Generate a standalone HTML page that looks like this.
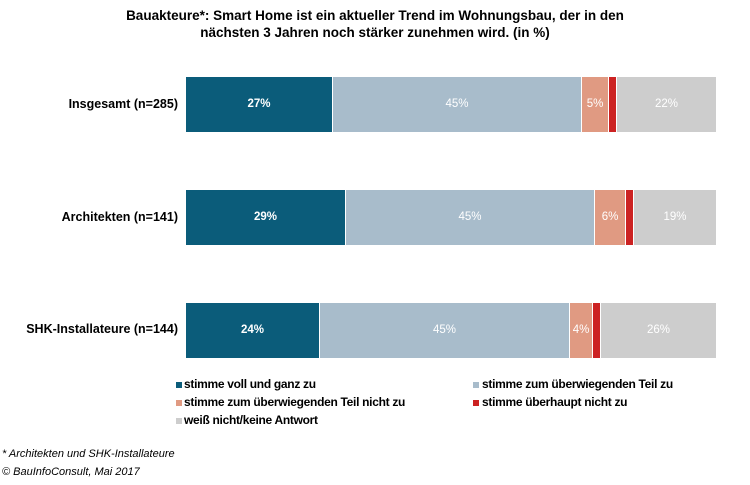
<!DOCTYPE html>
<html><head><meta charset="utf-8"><style>
body{margin:0;width:750px;height:485px;background:#fff;font-family:"Liberation Sans",Arial,sans-serif;position:relative;overflow:hidden}
.t{position:absolute;left:0;width:750px;text-align:center;font-weight:bold;font-size:13.5px;color:#000;line-height:17px}
.b{position:absolute;height:55px}
.v{position:absolute;height:55px;line-height:55px;text-align:center;font-size:11.5px;color:#fff}
.l{position:absolute;right:572px;font-weight:bold;font-size:12.5px;width:200px;text-align:right}
.lg{position:absolute;font-weight:bold;font-size:12px;letter-spacing:-0.3px}
.sq{position:absolute;width:6px;height:6px}
.f{position:absolute;left:2px;font-style:italic;font-size:11px}
</style></head><body>
<div class="t" style="top:7px">Bauakteure*: Smart Home ist ein aktueller Trend im Wohnungsbau, der in den<br>nächsten 3 Jahren noch stärker zunehmen wird. (in %)</div>

<div class="l" style="top:97px">Insgesamt (n=285)</div>
<div class="b" style="top:77px;left:186px;width:146px;background:#0b5c7a"></div>
<div class="b" style="top:77px;left:333px;width:248px;background:#a8bccb"></div>
<div class="b" style="top:77px;left:582px;width:26px;background:#e09a82"></div>
<div class="b" style="top:77px;left:609px;width:7px;background:#cc2222"></div>
<div class="b" style="top:77px;left:617px;width:99px;background:#cdcdcd"></div>
<div class="v" style="top:77px;left:186px;width:146px;font-weight:bold">27%</div>
<div class="v" style="top:77px;left:333px;width:248px">45%</div>
<div class="v" style="top:77px;left:582px;width:26px">5%</div>
<div class="v" style="top:77px;left:617px;width:99px">22%</div>

<div class="l" style="top:210px">Architekten (n=141)</div>
<div class="b" style="top:190px;left:186px;width:159px;background:#0b5c7a"></div>
<div class="b" style="top:190px;left:346px;width:248px;background:#a8bccb"></div>
<div class="b" style="top:190px;left:595px;width:30px;background:#e09a82"></div>
<div class="b" style="top:190px;left:626px;width:7px;background:#cc2222"></div>
<div class="b" style="top:190px;left:634px;width:82px;background:#cdcdcd"></div>
<div class="v" style="top:190px;left:186px;width:159px;font-weight:bold">29%</div>
<div class="v" style="top:190px;left:346px;width:248px">45%</div>
<div class="v" style="top:190px;left:595px;width:30px">6%</div>
<div class="v" style="top:190px;left:634px;width:82px">19%</div>

<div class="l" style="top:322px">SHK-Installateure (n=144)</div>
<div class="b" style="top:303px;left:186px;width:133px;background:#0b5c7a"></div>
<div class="b" style="top:303px;left:320px;width:249px;background:#a8bccb"></div>
<div class="b" style="top:303px;left:570px;width:22px;background:#e09a82"></div>
<div class="b" style="top:303px;left:593px;width:7px;background:#cc2222"></div>
<div class="b" style="top:303px;left:601px;width:115px;background:#cdcdcd"></div>
<div class="v" style="top:303px;left:186px;width:133px;font-weight:bold">24%</div>
<div class="v" style="top:303px;left:320px;width:249px">45%</div>
<div class="v" style="top:303px;left:570px;width:22px">4%</div>
<div class="v" style="top:303px;left:601px;width:115px">26%</div>

<div class="sq" style="left:176px;top:382px;background:#0b5c7a"></div><div class="lg" style="left:184px;top:377px">stimme voll und ganz zu</div>
<div class="sq" style="left:473px;top:382px;background:#a8bccb"></div><div class="lg" style="left:482px;top:377px">stimme zum überwiegenden Teil zu</div>
<div class="sq" style="left:176px;top:400px;background:#e09a82"></div><div class="lg" style="left:184px;top:395px">stimme zum überwiegenden Teil nicht zu</div>
<div class="sq" style="left:473px;top:400px;background:#cc2222"></div><div class="lg" style="left:482px;top:395px">stimme überhaupt nicht zu</div>
<div class="sq" style="left:176px;top:418px;background:#cdcdcd"></div><div class="lg" style="left:184px;top:413px">weiß nicht/keine Antwort</div>

<div class="f" style="top:448px">* Architekten und SHK-Installateure</div>
<div class="f" style="top:466px">© BauInfoConsult, Mai 2017</div>
</body></html>
